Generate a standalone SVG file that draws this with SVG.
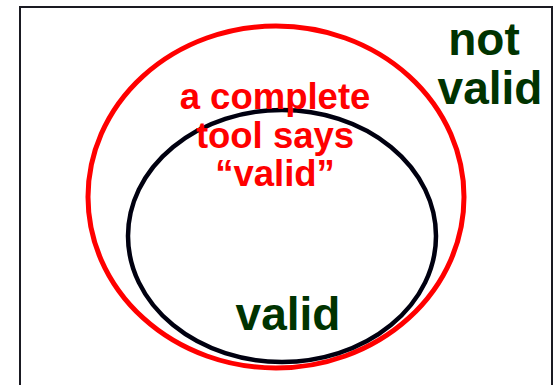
<svg xmlns="http://www.w3.org/2000/svg" width="554" height="385" viewBox="0 0 554 385">
<style>
.lbl{font-family:"Liberation Sans",Arial,sans-serif;font-weight:bold;text-anchor:middle}
.red{fill:#ff0000;font-size:36.5px}
.grn{fill:#003300;font-size:46px}
</style>
<rect width="554" height="385" fill="#ffffff"/>
<g id="frame"><rect x="20" y="7" width="532" height="400" fill="none" stroke="#1a1a22" stroke-width="2"/></g>
<g id="complete"><ellipse cx="276" cy="197" rx="188" ry="171" fill="none" stroke="#ff0000" stroke-width="5"/></g>
<g id="validset"><ellipse cx="282" cy="236" rx="154" ry="126" fill="none" stroke="#000010" stroke-width="4.5"/></g>
<g id="labels">
<text class="lbl red" x="275" y="109">a complete</text>
<text class="lbl red" x="275" y="148">tool says</text>
<text class="lbl red" x="275" y="186">“valid”</text>
<text class="lbl grn" x="484" y="55">not</text>
<text class="lbl grn" x="490" y="104">valid</text>
<text class="lbl grn" x="288" y="330">valid</text>
</g>
</svg>
